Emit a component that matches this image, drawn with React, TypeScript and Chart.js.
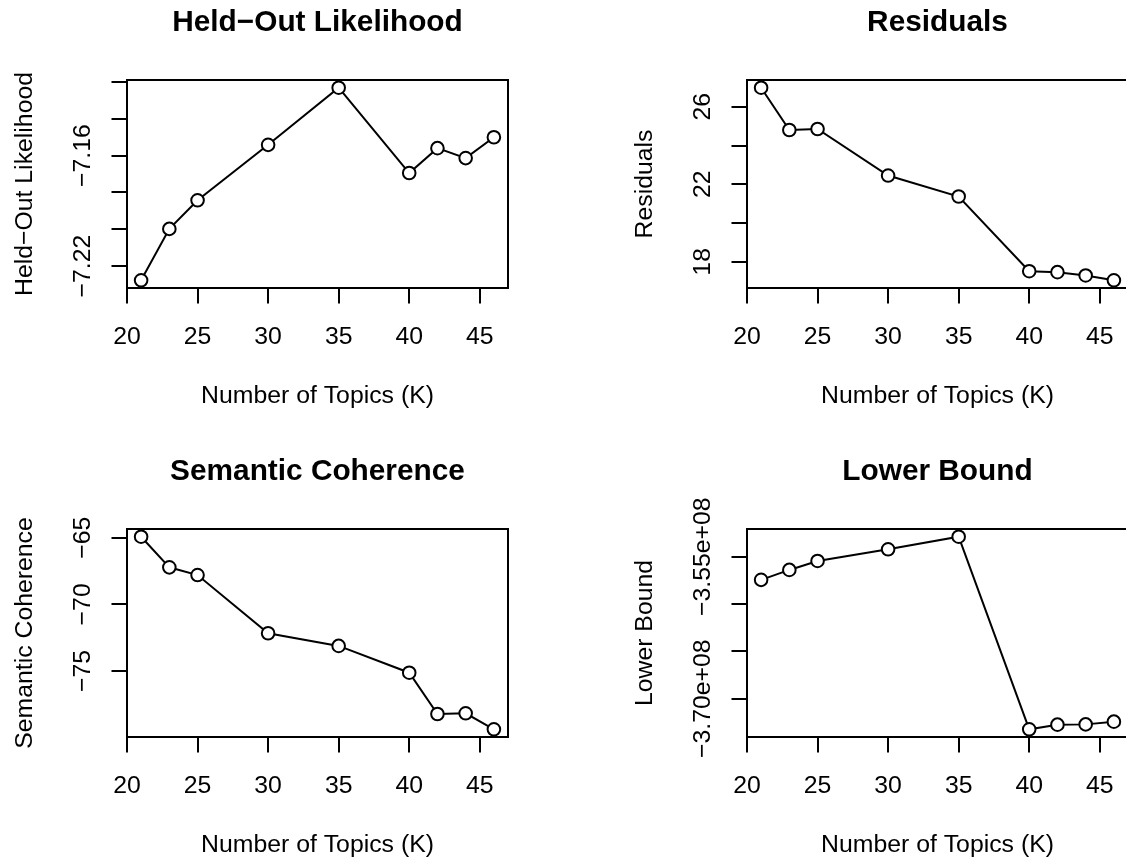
import React, { useEffect, useRef } from "react";
import { Chart, registerables } from "chart.js";

Chart.register(...registerables);

// ---- data ----
const topicsK = [21, 23, 25, 30, 35, 40, 42, 44, 46];
const heldOutLikelihood = [-7.2277, -7.1998, -7.1843, -7.1542, -7.1232, -7.1695, -7.156, -7.1614, -7.1501];
const residuals = [26.98, 24.8, 24.85, 22.45, 21.37, 17.52, 17.47, 17.3, 17.05];
const semanticCoherence = [-64.92, -67.22, -67.8, -72.17, -73.12, -75.13, -78.23, -78.18, -79.38];
const lowerBound = [-3.5745e8, -3.564e8, -3.5545e8, -3.5422e8, -3.5289e8, -3.7324e8, -3.7275e8, -3.7272e8, -3.7243e8];

const xTickValues = [20, 25, 30, 35, 40, 45];
const xTickLabels = ["20", "25", "30", "35", "40", "45"];

const heldOutTicks = [-7.22, -7.2, -7.18, -7.16, -7.14, -7.12];
const heldOutTickLabels = ["\u22127.22", "", "", "\u22127.16", "", ""];
const residualTicks = [18, 20, 22, 24, 26];
const residualTickLabels = ["18", "", "22", "", "26"];
const coherenceTicks = [-75, -70, -65];
const coherenceTickLabels = ["\u221275", "\u221270", "\u221265"];
const boundTicks = [-3.7e8, -3.65e8, -3.6e8, -3.55e8];
const boundTickLabels = ["\u22123.70e+08", "", "", "\u22123.55e+08"];

const xTitle = "Number of Topics (K)";

// ---- layout ----
const PANEL_W = 620;
const PANEL_H = 449;
const AREA_LEFT = 127;
const AREA_RIGHT = 508;
const AREA_TOP = 80;
const AREA_BOTTOM = 288;
const FONT = '"Liberation Sans", Arial, Helvetica, sans-serif';
const BASE_SIZE = 24.8;
const TITLE_SIZE = 29.8;

function paddedRange(vals: number[]): [number, number] {
  const lo = Math.min(...vals);
  const hi = Math.max(...vals);
  const p = (hi - lo) * 0.04;
  return [lo - p, hi + p];
}

const rBasePlugin = {
  id: "rbase",
  afterDraw(chart: any, _args: any, opts: any) {
    const { ctx, chartArea: a, scales } = chart;
    ctx.save();
    ctx.strokeStyle = "#000";
    ctx.lineWidth = 2;
    ctx.strokeRect(a.left, a.top, a.right - a.left, a.bottom - a.top);
    ctx.fillStyle = "#000";
    const cx = (a.left + a.right) / 2;
    const cy = (a.top + a.bottom) / 2;
    // title
    ctx.font = `bold ${TITLE_SIZE}px ${FONT}`;
    ctx.textAlign = "center";
    ctx.textBaseline = "alphabetic";
    ctx.fillText(opts.title, cx, a.top - 49.3);
    ctx.font = `${BASE_SIZE}px ${FONT}`;
    // x tick labels
    xTickValues.forEach((v, i) => {
      ctx.fillText(xTickLabels[i], scales.x.getPixelForValue(v), a.bottom + 56);
    });
    // x title
    ctx.fillText(xTitle, cx, a.bottom + 115.3);
    // y tick labels (rotated)
    (opts.yTicks as number[]).forEach((v, i) => {
      const lab = opts.yLabels[i];
      if (!lab) return;
      const py = scales.y.getPixelForValue(v);
      ctx.save();
      ctx.translate(a.left - 36.7, py);
      ctx.rotate(-Math.PI / 2);
      ctx.fillText(lab, 0, 0);
      ctx.restore();
    });
    // y title
    ctx.save();
    ctx.translate(a.left - 95.3, cy);
    ctx.rotate(-Math.PI / 2);
    ctx.fillText(opts.yTitle, 0, 0);
    ctx.restore();
    ctx.restore();
  },
};

type PanelProps = {
  left: number;
  top: number;
  title: string;
  yTitle: string;
  values: number[];
  yTicks: number[];
  yLabels: string[];
};

function Panel({ left, top, title, yTitle, values, yTicks, yLabels }: PanelProps) {
  const ref = useRef<HTMLCanvasElement | null>(null);
  useEffect(() => {
    if (!ref.current) return;
    const [ymin, ymax] = paddedRange(values);
    const gridOpts = {
      drawOnChartArea: false,
      drawTicks: true,
      tickLength: 15.5,
      color: "#000",
      lineWidth: 2,
    };
    const chart = new Chart(ref.current, {
      type: "line",
      data: {
        datasets: [
          {
            data: topicsK.map((k, i) => ({ x: k, y: values[i] })),
            borderColor: "#000",
            borderWidth: 2,
            pointRadius: 6.3,
            pointBorderWidth: 2,
            pointBorderColor: "#000",
            pointBackgroundColor: "#fff",
            tension: 0,
            fill: false,
          },
        ],
      },
      options: {
        responsive: false,
        animation: false,
        events: [],
        layout: { padding: { left: 0, top: AREA_TOP, right: PANEL_W - AREA_RIGHT, bottom: 0 } },
        plugins: {
          legend: { display: false },
          tooltip: { enabled: false },
          title: { display: false },
          rbase: { title, yTitle, yTicks, yLabels },
        } as any,
        scales: {
          x: {
            type: "linear",
            min: 20,
            max: 47,
            afterBuildTicks: (s: any) => {
              s.ticks = xTickValues.map((v) => ({ value: v }));
            },
            afterFit: (s: any) => {
              s.height = PANEL_H - AREA_BOTTOM;
            },
            ticks: { display: false },
            grid: gridOpts,
            border: { display: false },
          },
          y: {
            type: "linear",
            min: ymin,
            max: ymax,
            afterBuildTicks: (s: any) => {
              s.ticks = yTicks.map((v) => ({ value: v }));
            },
            afterFit: (s: any) => {
              s.width = AREA_LEFT;
            },
            ticks: { display: false },
            grid: gridOpts,
            border: { display: false },
          },
        },
      },
      plugins: [rBasePlugin],
    } as any);
    return () => chart.destroy();
  }, [title, yTitle, values, yTicks, yLabels]);
  return (
    <canvas
      ref={ref}
      width={PANEL_W}
      height={PANEL_H}
      style={{ position: "absolute", left, top, width: PANEL_W, height: PANEL_H }}
    />
  );
}

export default function App() {
  return (
    <div
      style={{
        position: "fixed",
        left: 0,
        top: 0,
        width: 1126,
        height: 861,
        overflow: "hidden",
        background: "#fff",
      }}
    >
      <Panel left={0} top={0} title={"Held\u2212Out Likelihood"} yTitle={"Held\u2212Out Likelihood"} values={heldOutLikelihood} yTicks={heldOutTicks} yLabels={heldOutTickLabels} />
      <Panel left={620} top={0} title="Residuals" yTitle="Residuals" values={residuals} yTicks={residualTicks} yLabels={residualTickLabels} />
      <Panel left={0} top={449} title="Semantic Coherence" yTitle="Semantic Coherence" values={semanticCoherence} yTicks={coherenceTicks} yLabels={coherenceTickLabels} />
      <Panel left={620} top={449} title="Lower Bound" yTitle="Lower Bound" values={lowerBound} yTicks={boundTicks} yLabels={boundTickLabels} />
    </div>
  );
}
